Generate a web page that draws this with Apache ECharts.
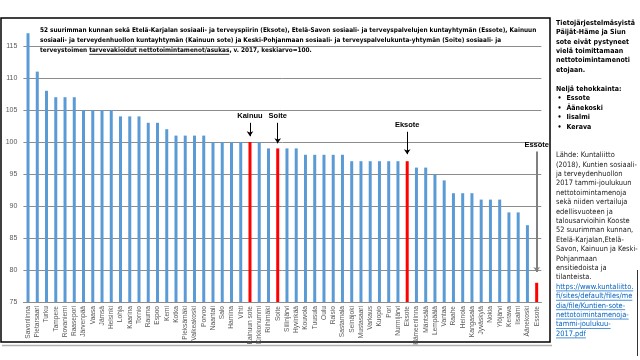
<!DOCTYPE html>
<html><head><meta charset="utf-8">
<script src="https://cdn.jsdelivr.net/npm/echarts@6/dist/echarts.min.js"></script>
<style>html,body{margin:0;padding:0;background:#fff}#c{width:640px;height:360px}</style>
</head><body><div id="c"></div>
<script>
// ---- data ----
const categories = ['Savonlinna','Pietarsaari','Turku','Tampere','Rovaniemi','Raasepori','Järvenpää','Vaasa','Jämsä','Helsinki','Lohja','Kaarina','Tornio','Rauma','Espoo','Kemi','Kotka','Pieksämäki','Valkeakoski','Porvoo','Naantali','Salo','Hamina','Vihti','Kainuun sote','Kirkkonummi','Riihimäki','Soite','Siilinjärvi','Hyvinkää','Kouvola','Tuusula','Oulu','Raisio','Sastamala','Seinäjoki','Mustasaari','Varkaus','Kuopio','Pori','Nurmijärvi','Eksote','Hämeenlinna','Mäntsälä','Lempäälä','Vantaa','Raahe','Heinola','Kangasala','Jyväskylä','Nokia','Ylöjärvi','Kerava','Iisalmi','Äänekoski','Essote'];
const values = [117,111,108,107,107,107,105,105,105,105,104,104,104,103,103,102,101,101,101,101,100,100,100,100,100,100,99,99,99,99,98,98,98,98,98,97,97,97,97,97,97,97,96,96,95,94,92,92,92,91,91,91,89,89,87,78];
const highlighted = ['Kainuun sote','Soite','Eksote','Essote'];
const yTicks = [75,80,85,90,95,100,105,110,115];
// annotations: [category, label, start value, end value]
const annotations = [
  ['Kainuun sote','Kainuu',103,100.9],
  ['Soite','Soite',103,99.8],
  ['Eksote','Eksote',101.6,98.1],
  ['Essote','Essote',98.5,79.7]
];
const titleLines = [
  ['52 suurimman kunnan sekä Etelä-Karjalan sosiaali- ja terveyspiirin (Eksote), Etelä-Savon sosiaali- ja terveyspalvelujen kuntayhtymän (Essote), Kainuun'],
  ['sosiaali- ja terveydenhuollon kuntayhtymän (Kainuun sote) ja Keski-Pohjanmaan sosiaali- ja terveyspalvelukunta-yhtymän (Soite) sosiaali- ja'],
  ['terveystoimen ','tarvevakioidut nettotoimintamenot/asukas',', v. 2017, keskiarvo=100.']
];
const noteBold = ['Tietojärjestelmäsyistä','Päijät-Häme ja Siun','sote eivät pystyneet','vielä toimittamaan','nettotoimintamenoti','etojaan.'];
const bestTitle = 'Neljä tehokkainta:';
const bestList = ['Essote','Äänekoski','Iisalmi','Kerava'];
const sourceLines = ['Lähde: Kuntaliitto','(2018), Kuntien sosiaali-','ja terveydenhuollon','2017 tammi-joulukuun','nettotoimintamenoja','sekä niiden vertailuja','edellisvuoteen ja','talousarvioihin Kooste','52 suurimman kunnan,','Etelä-Karjalan,Etelä-','Savon, Kainuun ja Keski-','Pohjanmaan','ensitiedoista ja','tilanteista.'];
const linkLines = ['https://www.kuntaliitto.','fi/sites/default/files/me','dia/file/Kuntien-sote-','nettotoimintamenoja-','tammi-joulukuu-','2017.pdf'];

// ---- helpers ----
const FAM = '"Liberation Sans Narrow","DejaVu Sans Condensed","Liberation Sans",sans-serif';
const mctx = document.createElement('canvas').getContext('2d');
function tw(t, font){ mctx.font = font; return mctx.measureText(t).width; }
function fitSize(t, weight, target){ const w = tw(t, weight + ' 10px ' + FAM); return 10 * target / w; }

const gridColor = '#8c8c8c';
const graphics = [];
// frame
graphics.push({type:'line', shape:{x1:2,y1:345.5,x2:552,y2:345.5}, style:{stroke:'#b0b0b0', lineWidth:1.5}, silent:true});
graphics.push({type:'rect', shape:{x:1,y:18,width:549,height:324}, style:{fill:'none', stroke:'#000', lineWidth:1.5}, silent:true});
graphics.push({type:'line', shape:{x1:637.5,y1:270,x2:637.5,y2:356}, style:{stroke:'#333', lineWidth:1}, silent:true});

// title
const tSize = fitSize(titleLines[0].join(''), 'bold', 497);
const tFont = 'bold ' + tSize.toFixed(2) + 'px ' + FAM;
titleLines.forEach((parts, i) => {
  let x = 40; const y = 30.5 + i * 10;
  parts.forEach((p, j) => {
    graphics.push({type:'text', x: x, y: y, style:{text:p, font:tFont, fill:'#000', verticalAlign:'middle', align:'left'}, silent:true});
    const w = tw(p, tFont);
    if (i === 2 && j === 1) graphics.push({type:'line', shape:{x1:x,y1:y+tSize*0.6,x2:x+w,y2:y+tSize*0.6}, style:{stroke:'#000', lineWidth:0.8}, silent:true});
    x += w;
  });
});

// side notes
const nbSize = fitSize('Tietojärjestelmäsyistä', 'bold', 79);
const nbFont = 'bold ' + nbSize.toFixed(2) + 'px ' + FAM;
const nrSize = fitSize('(2018), Kuntien sosiaali-', 'normal', 81);
const nrFont = nrSize.toFixed(2) + 'px ' + FAM;
const step = 9.4;
noteBold.forEach((t, i) => graphics.push({type:'text', x:556, y:23 + i*step, style:{text:t, font:nbFont, fill:'#000', verticalAlign:'middle'}, silent:true}));
graphics.push({type:'text', x:556, y:89.2, style:{text:bestTitle, font:nbFont, fill:'#000', verticalAlign:'middle'}, silent:true});
bestList.forEach((t, i) => {
  graphics.push({type:'text', x:557.5, y:98.6 + i*step, style:{text:'•', font:nbFont, fill:'#000', verticalAlign:'middle'}, silent:true});
  graphics.push({type:'text', x:566.5, y:98.6 + i*step, style:{text:t, font:nbFont, fill:'#000', verticalAlign:'middle'}, silent:true});
});
sourceLines.forEach((t, i) => graphics.push({type:'text', x:556, y:155.2 + i*step, style:{text:t, font:nrFont, fill:'#222', verticalAlign:'middle'}, silent:true}));
linkLines.forEach((t, i) => {
  const y = 155.2 + (sourceLines.length + i) * step;
  graphics.push({type:'text', x:556, y:y, style:{text:t, font:nrFont, fill:'#0563C1', verticalAlign:'middle'}, silent:true});
  const w = tw(t, nrFont);
  graphics.push({type:'line', shape:{x1:556,y1:y+nrSize*0.55,x2:556+w,y2:y+nrSize*0.55}, style:{stroke:'#0563C1', lineWidth:0.7}, silent:true});
});

// markLine annotations
const markData = annotations.map(a => {
  const isEssote = a[0] === 'Essote';
  return [
    {coord:[a[0], a[2]], label:{show:true, position:'start', formatter:a[1], fontWeight:'bold', fontSize:7.5, color:'#000', fontFamily:'"Liberation Sans",sans-serif', distance:3},
     lineStyle:{color: isEssote ? '#808080' : '#000', width: isEssote ? 2 : 1, type:'solid'}},
    {coord:[a[0], a[3]]}
  ];
});

const yMin = 75, yMax = 117.5;
const splitColors = yTicks.map(v => gridColor).concat(['transparent']);

const chart = echarts.init(document.getElementById('c'), null, {renderer:'canvas'});
chart.setOption({
  animation:false,
  backgroundColor:'#fff',
  grid:{left:23.4, right:98.7, top:302 - (yMax-75)*6.4, bottom:58, containLabel:false},
  xAxis:{type:'category', data:categories, axisTick:{show:false},
    axisLine:{show:true, lineStyle:{color:gridColor, width:1}},
    axisLabel:{rotate:90, interval:0, fontSize:6.6, color:'#595959', margin:4, fontFamily:'"Liberation Sans",sans-serif'}},
  yAxis:{type:'value', min:yMin, max:yMax, interval:5,
    axisLine:{show:false}, axisTick:{show:false},
    splitLine:{show:true, lineStyle:{color:splitColors, width:1}},
    axisLabel:{fontSize:7, color:'#595959', margin:6, fontFamily:'"Liberation Sans",sans-serif',
      formatter: v => yTicks.indexOf(v) >= 0 ? String(v) : ''}},
  series:[{
    type:'bar', barWidth:3,
    data: values.map((v, i) => ({value:v, itemStyle:{color: highlighted.indexOf(categories[i]) >= 0 ? '#FF0000' : '#5B9BD5'}})),
    markLine:{silent:true, symbol:['none','arrow'], symbolSize:[5,5], data:markData, animation:false}
  }],
  graphic: graphics
});
</script>
</body></html>
